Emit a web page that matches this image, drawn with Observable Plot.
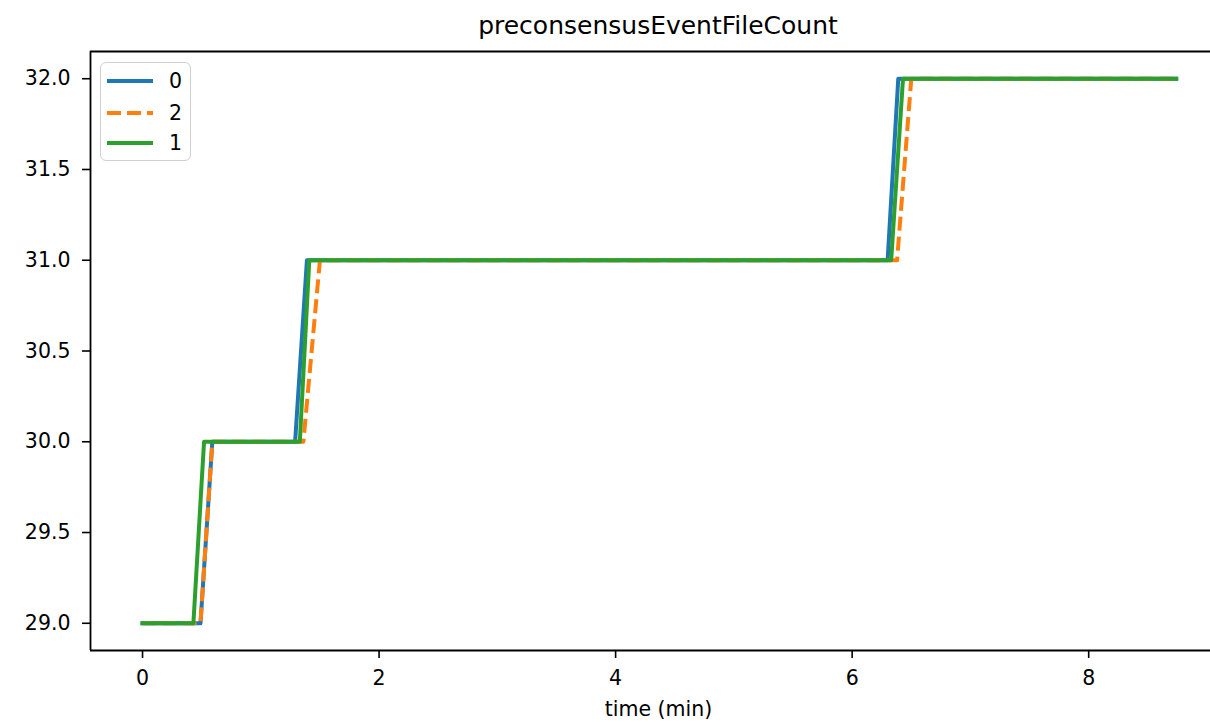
<!DOCTYPE html>
<html>
<head>
<meta charset="utf-8">
<script src="https://cdn.jsdelivr.net/npm/d3@7"></script>
<script src="https://cdn.jsdelivr.net/npm/@observablehq/plot@0.6"></script>
<style>
  html, body { margin: 0; padding: 0; background: #fff; overflow: hidden; }
  #wrap { position: relative; width: 1210px; height: 722px; font-family: "DejaVu Sans", sans-serif; }
  #title { position: absolute; left: 106px; right: 0; top: 11px; text-align: center; font-size: 25px; line-height: 30px; color: #000; }
  #legend { position: absolute; left: 100px; top: 62px; width: 89px; height: 97px; border: 1.5px solid #d0d0d0; border-radius: 6px; background: rgba(255,255,255,0.8); }
  .row { position: absolute; left: 0; height: 24px; display: flex; align-items: center; font-size: 20.5px; line-height: 24px; }
  .row svg { margin-left: 6px; margin-right: 16px; }
</style>
</head>
<body>
<div id="wrap">
  <div id="chart"></div>
  <div id="title">preconsensusEventFileCount</div>
  <div id="legend"></div>
</div>
<script>
// Series names in draw order (as in legend)
const seriesNames = ["0", "2", "1"];
const seriesColors = ["#1f77b4", "#ff7f0e", "#2ca02c"];
const seriesDash = [null, "14,6", null];

// Vertex times (min) and values for each series
const time0 = [0, 0.49, 0.59, 1.29, 1.39, 6.30, 6.39, 8.74];
const value0 = [29, 29, 30, 30, 31, 31, 32, 32];
const time2 = [0, 0.49, 0.59, 1.36, 1.50, 6.38, 6.50, 8.74];
const value2 = [29, 29, 30, 30, 31, 31, 32, 32];
const time1 = [0, 0.43, 0.52, 1.33, 1.41, 6.33, 6.43, 8.74];
const value1 = [29, 29, 30, 30, 31, 31, 32, 32];

const xTicks = [0, 2, 4, 6, 8];
const yTicks = [29.0, 29.5, 30.0, 30.5, 31.0, 31.5, 32.0];

const seriesData = [
  time0.map((t, i) => ({t, v: value0[i], s: "0"})),
  time2.map((t, i) => ({t, v: value2[i], s: "2"})),
  time1.map((t, i) => ({t, v: value1[i], s: "1"}))
];

const xDom = [-0.44, 9.03];
const yDom = [28.85, 32.15];

const lineMarks = seriesData.map((d, i) => Plot.line(d, {
  x: "t", y: "v",
  stroke: seriesColors[i],
  strokeWidth: 4,
  strokeDasharray: seriesDash[i] || undefined,
  strokeLinecap: seriesDash[i] ? "butt" : "square",
  strokeLinejoin: "round"
}));

const chart = Plot.plot({
  width: 1210,
  height: 722,
  marginTop: 51,
  marginBottom: 72,
  marginLeft: 90,
  marginRight: 0,
  style: { fontFamily: "DejaVu Sans, sans-serif", fontSize: "20.5px", color: "#000", background: "#fff" },
  x: { domain: xDom, ticks: xTicks, tickFormat: d => String(d), label: null },
  y: { domain: yDom, ticks: yTicks, tickFormat: d => d.toFixed(1), label: null },
  marks: [
    ...lineMarks,
    Plot.axisX({ ticks: xTicks, tickFormat: d => String(d), tickSize: 8, tickPadding: 12, strokeWidth: 1.6, fontSize: "20.5px", label: null }),
    Plot.axisY({ ticks: yTicks, tickFormat: d => d.toFixed(1), tickSize: 8, tickPadding: 12, strokeWidth: 1.6, fontSize: "20.5px", label: null }),
    Plot.ruleY([yDom[0]], { stroke: "#000", strokeWidth: 1.8 }),
    Plot.ruleY([yDom[1]], { stroke: "#000", strokeWidth: 1.8 }),
    Plot.ruleX([xDom[0]], { stroke: "#000", strokeWidth: 1.8 }),
    Plot.text(["time (min)"], { frameAnchor: "bottom", dy: 65, fontSize: 20.5, fill: "#000", dx: 8 })
  ]
});
document.getElementById("chart").appendChild(chart);

// Legend
const legend = document.getElementById("legend");
const rowTops = [6, 38, 68];
seriesNames.forEach((name, i) => {
  const row = document.createElement("div");
  row.className = "row";
  row.style.top = rowTops[i] + "px";
  const dash = seriesDash[i] ? `stroke-dasharray="${seriesDash[i]}"` : "";
  row.innerHTML = `<svg width="46" height="8"><line x1="0" y1="4" x2="46" y2="4" stroke="${seriesColors[i]}" stroke-width="4" ${dash}/></svg><span>${name}</span>`;
  legend.appendChild(row);
});
</script>
</body>
</html>
